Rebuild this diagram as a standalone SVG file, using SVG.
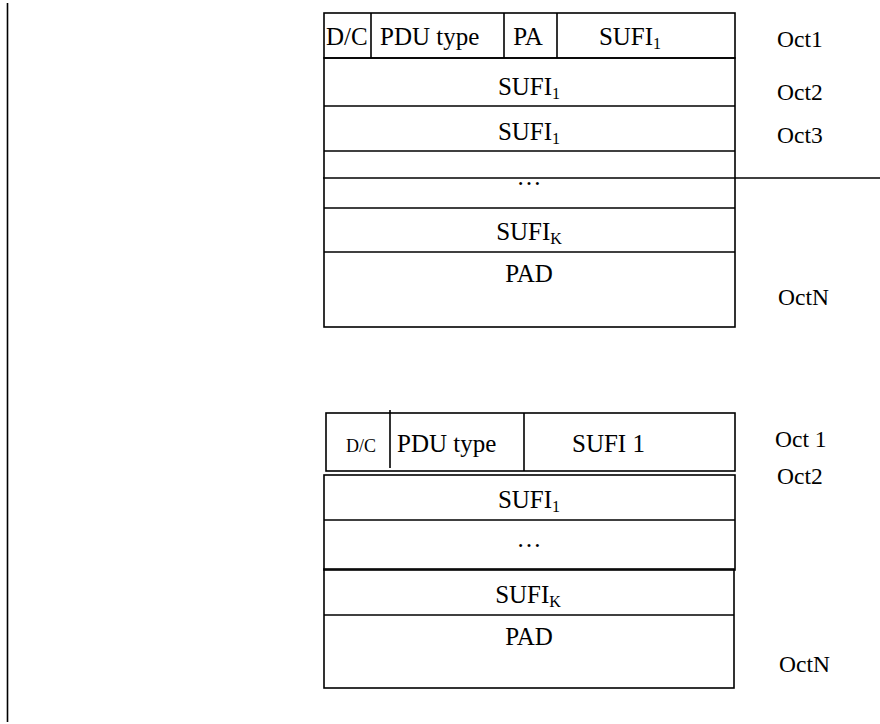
<svg xmlns="http://www.w3.org/2000/svg" width="880" height="724" viewBox="0 0 880 724">
<style>
.b{fill:none;stroke:#000;stroke-width:1.6}
.l{stroke:#000;stroke-width:1.6}
text{font-family:"Liberation Serif","Times New Roman",serif;font-size:25px;fill:#000}
.m{text-anchor:middle}
.s{font-size:16px}
.sm{font-size:18px}
.o{font-size:23.5px}
</style>
<rect width="880" height="724" fill="#fff"/>
<g id="connectors">
<line class="l" x1="7.5" y1="3" x2="7.5" y2="722" stroke-width="2.2"/>
<line class="l" x1="323" y1="178" x2="880" y2="178" stroke-width="2"/>
</g>
<g id="frame1">
<rect class="b" x="324" y="13" width="411" height="45"/>
<line class="l" x1="371" y1="13" x2="371" y2="58"/>
<line class="l" x1="504" y1="13" x2="504" y2="58"/>
<line class="l" x1="557" y1="13" x2="557" y2="58"/>
<rect class="b" x="324" y="58" width="411" height="269"/>
<line class="l" x1="324" y1="106" x2="735" y2="106"/>
<line class="l" x1="324" y1="151" x2="735" y2="151"/>
<line class="l" x1="324" y1="208" x2="735" y2="208"/>
<line class="l" x1="324" y1="252" x2="735" y2="252"/>
<text x="326" y="45">D/C</text>
<text x="380" y="45">PDU type</text>
<text class="m" x="528" y="45">PA</text>
<text class="m" x="630" y="45">SUFI<tspan class="s" dy="4">1</tspan></text>
<text class="m" x="529" y="95">SUFI<tspan class="s" dy="4">1</tspan></text>
<text class="m" x="529" y="140">SUFI<tspan class="s" dy="4">1</tspan></text>
<text class="m" x="529" y="185">…</text>
<text class="m" x="529" y="240">SUFI<tspan class="s" dy="4">K</tspan></text>
<text class="m" x="529" y="282">PAD</text>
<text class="o" x="777" y="47">Oct1</text>
<text class="o" x="777" y="100">Oct2</text>
<text class="o" x="777" y="143">Oct3</text>
<text class="o" x="778" y="305">OctN</text>
</g>
<g id="frame2">
<rect class="b" x="326" y="413" width="409" height="58"/>
<line class="l" x1="390" y1="410" x2="390" y2="468"/>
<line class="l" x1="524" y1="413" x2="524" y2="471"/>
<rect class="b" x="324" y="475" width="411" height="95"/>
<line class="l" x1="324" y1="520" x2="735" y2="520"/>
<rect class="b" x="324" y="569" width="410" height="119"/>
<line class="l" x1="324" y1="615" x2="734" y2="615"/>
<text class="sm" x="346" y="452">D/C</text>
<text x="397" y="452">PDU type</text>
<text x="572" y="452">SUFI 1</text>
<text class="m" x="529" y="508">SUFI<tspan class="s" dy="4">1</tspan></text>
<text class="m" x="529" y="547">…</text>
<text class="m" x="528" y="603">SUFI<tspan class="s" dy="4">K</tspan></text>
<text class="m" x="529" y="645">PAD</text>
<text class="o" x="775" y="447">Oct 1</text>
<text class="o" x="777" y="484">Oct2</text>
<text class="o" x="779" y="672">OctN</text>
</g>
</svg>
